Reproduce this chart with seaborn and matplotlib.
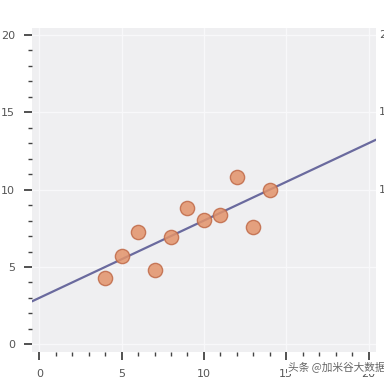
import numpy as np
import pandas as pd
import seaborn as sns
import matplotlib.pyplot as plt
from matplotlib.ticker import MultipleLocator

# Anscombe's quartet, set I
x_vals = [10, 8, 13, 9, 11, 14, 6, 4, 12, 7, 5]
y_vals = [8.04, 6.95, 7.58, 8.81, 8.33, 9.96, 7.24, 4.26, 10.84, 4.82, 5.68]
x_ticks = [0, 5, 10, 15, 20]
y_ticks = [0, 5, 10, 15, 20]
watermark = "头条 @加米谷大数据"

df = pd.DataFrame({"x": x_vals, "y": y_vals})

sns.set_style("white")
plt.rcParams['font.family'] = ['DejaVu Sans', 'Noto Sans CJK SC']

fig = plt.figure(figsize=(3.84, 3.81), dpi=100)
ax = fig.add_axes([0.083, 0.076, 0.896, 0.8504])
ax.set_facecolor('#efeff1')
ax.set_xlim(-0.45, 20.45)
ax.set_ylim(-0.5, 20.45)

sns.regplot(data=df, x="x", y="y", ax=ax, scatter=False, ci=None, truncate=False,
            line_kws=dict(color='#6a6a9e', lw=1.6, zorder=2))
sns.scatterplot(data=df, x="x", y="y", ax=ax, s=105, color='#e3936a', alpha=0.85,
                edgecolor='#c06a48', linewidth=1, zorder=3)

ax.set_xticks(x_ticks)
ax.set_yticks(y_ticks)
ax.xaxis.set_minor_locator(MultipleLocator(1))
ax.yaxis.set_minor_locator(MultipleLocator(1))
ax.tick_params(which='major', length=6, width=1.2, color='#333333', labelsize=8,
               labelcolor='#555555', pad=6)
ax.tick_params(which='minor', length=3, width=1, color='#444444')
ax.tick_params(axis='x', which='both', bottom=True)
ax.tick_params(axis='y', which='both', left=True)
ax.grid(True, which='major', color='#f8f8fa', lw=1)
ax.set_axisbelow(True)
for s in ax.spines.values():
    s.set_visible(False)
ax.set_xlabel('')
ax.set_ylabel('')

# partial tick labels of the neighbouring panel, cut by the edge
for v in y_ticks[2:]:
    yy = ax.transData.transform((0, v))[1]
    fig.text(379 / 384, yy / fig.bbox.height, str(v), ha='left', va='center',
             fontsize=8, color='#555555')

fig.text(288 / 384, 1 - 368 / 381, watermark, ha='left', va='center', fontsize=7.7,
         color='#666666', family=['Noto Sans CJK SC', 'DejaVu Sans'],
         bbox=dict(facecolor='white', edgecolor='none', pad=0.6))

fig.savefig('out.png', dpi=100, facecolor='white')
